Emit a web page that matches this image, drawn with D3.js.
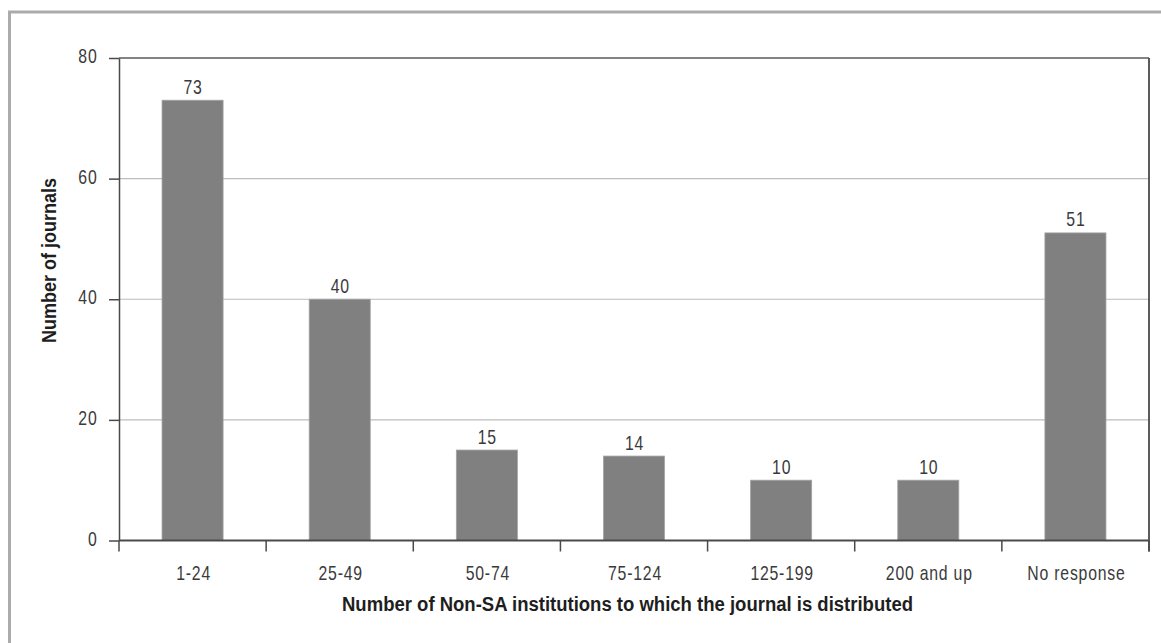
<!DOCTYPE html>
<html><head><meta charset="utf-8">
<script src="https://cdn.jsdelivr.net/npm/d3@7"></script>
<style>
html,body{margin:0;padding:0;background:#fff;}
svg{display:block;}
text{font-family:"Liberation Sans",Arial,sans-serif;}
</style></head>
<body>
<svg id="chart" width="1161" height="643"></svg>
<script>
const categories = ["1-24","25-49","50-74","75-124","125-199","200 and up","No response"];
const values = [73,40,15,14,10,10,51];
const yTicks = [0,20,40,60,80];
const yTitle = "Number of journals";
const xTitle = "Number of Non-SA institutions to which the journal is distributed";

const svg = d3.select("#chart");
const m = {left:119, right:1149, top:58, bottom:540.5};
const SX = 0.79, FS = 20, LS = 1.0;

// condense text horizontally around its anchor point
function condense(sel){
  sel.each(function(){
    const t = d3.select(this);
    const x = +t.attr("x")||0, y = +t.attr("y")||0;
    t.attr("x",0).attr("y",0).attr("transform",`translate(${x},${y}) scale(${SX},1)`)
     .attr("font-size",FS).attr("letter-spacing",LS).attr("fill","#3a3a3a");
  });
}

// outer border (cut off at right/bottom)
svg.append("rect").attr("x",9.5).attr("y",12).attr("width",1170).attr("height",650)
  .attr("fill","none").attr("stroke","#ababab").attr("stroke-width",3);

const x = d3.scaleBand().domain(categories).range([m.left,m.right]).paddingInner(0.585).paddingOuter(0.2925);
const y = d3.scaleLinear().domain([0,80]).range([m.bottom,m.top]);

// gridlines
svg.append("g").selectAll("line").data(yTicks.filter(d=>d>0 && d<80)).join("line")
  .attr("x1",m.left).attr("x2",m.right).attr("y1",d=>y(d)).attr("y2",d=>y(d))
  .attr("stroke","#bdbdbd").attr("stroke-width",1.2);

// bars
svg.append("g").selectAll("rect").data(values).join("rect")
  .attr("x",(d,i)=>x(categories[i])).attr("width",x.bandwidth())
  .attr("y",d=>y(d)).attr("height",d=>y(0)-y(d))
  .attr("fill","#808081").attr("stroke","#a3a3a3").attr("stroke-width",0.8);

// value labels
svg.append("g").selectAll("text").data(values).join("text")
  .attr("x",(d,i)=>x(categories[i])+x.bandwidth()/2+0.5).attr("y",d=>y(d)-6.5)
  .attr("text-anchor","middle").text(d=>d).call(condense);

// frame top & right
svg.append("line").attr("x1",m.left).attr("x2",m.right).attr("y1",m.top).attr("y2",m.top)
  .attr("stroke","#5a5a5a").attr("stroke-width",1.5);
svg.append("line").attr("x1",m.right).attr("x2",m.right).attr("y1",m.top).attr("y2",m.bottom+11)
  .attr("stroke","#4a4a4a").attr("stroke-width",1.8);

// y axis
const yAxis = svg.append("g").attr("transform",`translate(${m.left},0)`)
  .call(d3.axisLeft(y).tickValues(yTicks).tickSize(10).tickPadding(12).tickSizeOuter(0));
yAxis.select(".domain").attr("stroke","#4a4a4a").attr("stroke-width",1.5);
yAxis.selectAll(".tick line").attr("stroke","#4a4a4a").attr("stroke-width",1.5);
yAxis.selectAll(".tick text").attr("dy",null).attr("y",4.5).attr("x",-21.5).call(condense);
yAxis.attr("font-family",null).attr("font-size",null);

// x axis: ticks at category boundaries
const xb = svg.append("g").attr("transform",`translate(0,${m.bottom})`);
xb.append("line").attr("x1",m.left).attr("x2",m.right).attr("stroke","#4a4a4a").attr("stroke-width",1.8);
const bounds = d3.range(categories.length+1).map(i=>m.left + x.step()*i);
xb.selectAll("line.tk").data(bounds).join("line").attr("class","tk")
  .attr("x1",d=>d).attr("x2",d=>d).attr("y1",0).attr("y2",11)
  .attr("stroke","#4a4a4a").attr("stroke-width",1.5);
xb.selectAll("text").data(categories).join("text")
  .attr("x",d=>x(d)+x.bandwidth()/2+1).attr("y",39.5)
  .attr("text-anchor","middle").text(d=>d).call(condense);

// titles
svg.append("text").attr("x",627.5).attr("y",610.5).attr("text-anchor","middle")
  .attr("font-size",19.5).attr("font-weight","bold").attr("fill","#1e1e1e")
  .attr("textLength",571).attr("lengthAdjust","spacingAndGlyphs").text(xTitle);
svg.append("text").attr("transform","translate(56,260.5) rotate(-90)").attr("text-anchor","middle")
  .attr("font-size",19.5).attr("font-weight","bold").attr("fill","#1e1e1e")
  .attr("textLength",165).attr("lengthAdjust","spacingAndGlyphs").text(yTitle);
</script>
</body></html>
